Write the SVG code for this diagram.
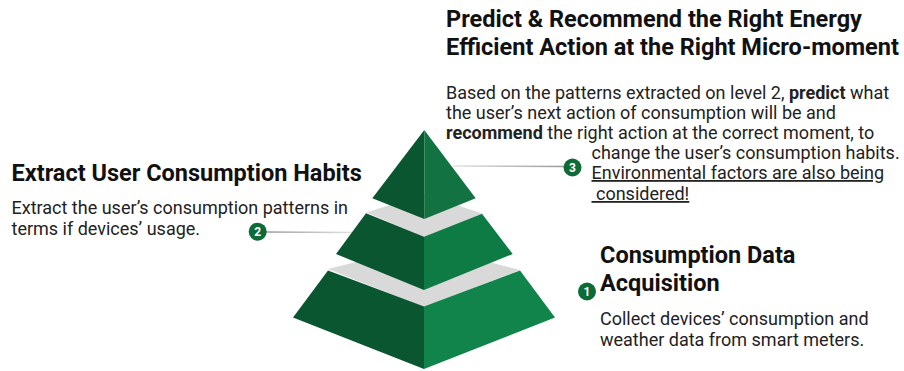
<svg xmlns="http://www.w3.org/2000/svg" width="904" height="371" viewBox="0 0 904 371">
<style>
.title{font-family:Roboto,"Liberation Sans",sans-serif;font-weight:bold;font-size:23.5px;fill:#111}
.body{font-family:Roboto,"Liberation Sans",sans-serif;font-size:18px;fill:#222}
.num{font-family:Roboto,"Liberation Sans",sans-serif;font-weight:bold;font-size:12px;fill:#fff;text-anchor:middle}
.badge{fill:#0d6b38}
.gray{fill:#d9d9d9}
.dk{fill:#0a5631}
.lt{fill:#0f7b44}
.conn{stroke-width:1.5;fill:none}
</style>
<defs>
<linearGradient id="gR" x1="0" y1="0" x2="1" y2="0"><stop offset="0" stop-color="#e2e2e2"/><stop offset="1" stop-color="#9a9a9a"/></linearGradient>
<linearGradient id="gL" x1="0" y1="0" x2="1" y2="0"><stop offset="0" stop-color="#9a9a9a"/><stop offset="1" stop-color="#e2e2e2"/></linearGradient>
</defs>
<g id="connectors">
<line class="conn" x1="453" y1="166" x2="565" y2="166.5" stroke="url(#gR)"/>
<line class="conn" x1="265" y1="232" x2="352" y2="232.5" stroke="url(#gL)"/>
<line class="conn" x1="534" y1="290" x2="580" y2="290" stroke="url(#gR)"/>
</g>
<g id="pyramid">
<g id="tier1">
<polygon class="gray" points="328,269 424,245 520,270 424,307"/>
<polygon class="dk" points="328,270.5 424,306.5 424,369 293,317.5"/>
<polygon style="fill:#10844a" points="520,270.5 424,306.5 424,369 555,317.5"/>
</g>
<g id="tier2">
<polygon class="gray" points="366.5,212.5 424,194 482,213.5 424,237"/>
<polygon class="dk" points="366,213.3 424,236.7 424,290 336,254"/>
<polygon class="lt" points="482,213.8 424,236.7 424,290 512.7,254"/>
</g>
<g id="tier3">
<polygon class="dk" points="424.3,130 424.3,219 372.3,198.3"/>
<polygon style="fill:#127242" points="424.3,130 424.3,219 475.7,198.3"/>
</g>
</g>
<g id="node3">
<circle class="badge" cx="572.5" cy="167.5" r="9"/>
<text class="num" x="572.5" y="171.7">3</text>
<text class="title" x="446" y="26.5">Predict &amp; Recommend the Right Energy</text>
<text class="title" x="446" y="54.5">Efficient Action at the Right Micro-moment</text>
<text class="body" x="446" y="99">Based on the patterns extracted on level 2, <tspan font-weight="bold">predict</tspan> what</text>
<text class="body" x="446" y="119">the user’s next action of consumption will be and</text>
<text class="body" x="446" y="139"><tspan font-weight="bold">recommend</tspan> the right action at the correct moment, to</text>
<text class="body" x="591.5" y="159">change the user’s consumption habits.</text>
<text class="body" x="591.5" y="179" text-decoration="underline">Environmental factors are also being</text>
<text class="body" x="591.5" y="200" text-decoration="underline" style="white-space:pre"> considered!</text>
</g>
<g id="node2">
<circle class="badge" cx="257.7" cy="231.7" r="9"/>
<text class="num" x="257.7" y="235.9">2</text>
<text class="title" x="11.5" y="181">Extract User Consumption Habits</text>
<text class="body" x="11.5" y="214">Extract the user’s consumption patterns in</text>
<text class="body" x="11.5" y="235">terms if devices’ usage.</text>
</g>
<g id="node1">
<circle class="badge" cx="587" cy="291.5" r="9"/>
<text class="num" x="587" y="295.7">1</text>
<text class="title" x="600" y="262.5">Consumption Data</text>
<text class="title" x="600" y="291">Acquisition</text>
<text class="body" x="600" y="325">Collect devices’ consumption and</text>
<text class="body" x="600" y="345.5">weather data from smart meters.</text>
</g>
</svg>
